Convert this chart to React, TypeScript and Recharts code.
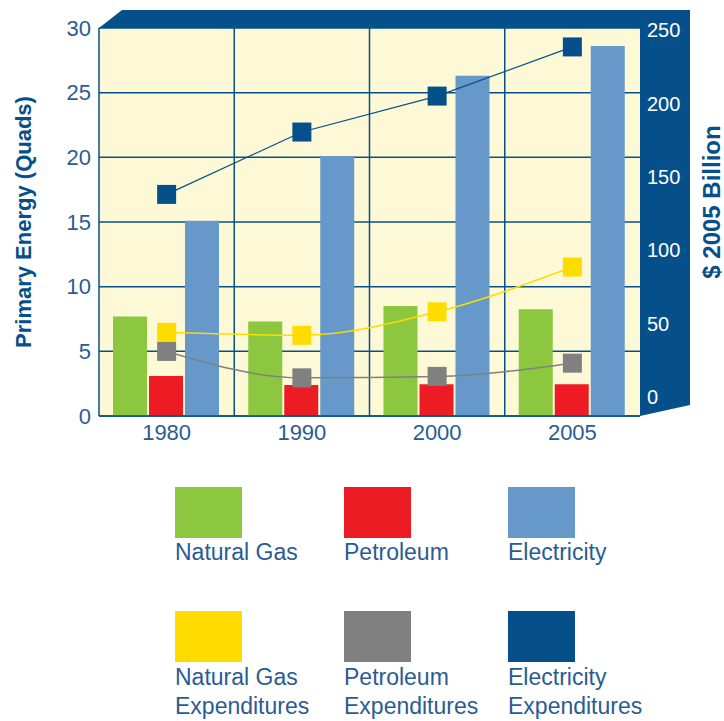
import React from "react"
import {
  Bar,
  CartesianGrid,
  ComposedChart,
  Customized,
  Line,
  XAxis,
  YAxis,
} from "recharts"

// values
const years = ["1980", "1990", "2000", "2005"]
const naturalGas = [7.7, 7.3, 8.5, 8.25]
const petroleum = [3.1, 2.4, 2.45, 2.45]
const electricity = [15.1, 20.1, 26.3, 28.6]
const naturalGasExp = [44, 42, 58, 88.5]
const petroleumExp = [31, 13, 14, 23]
const electricityExp = [138, 180.5, 205, 238.5]

const leftTicks = [0, 5, 10, 15, 20, 25, 30]
const rightTicks = [0, 50, 100, 150, 200, 250]

const data = years.map((year, i) => ({
  year,
  naturalGas: naturalGas[i],
  petroleum: petroleum[i],
  electricity: electricity[i],
  naturalGasExp: naturalGasExp[i],
  petroleumExp: petroleumExp[i],
  electricityExp: electricityExp[i],
}))

const FONT = '"Liberation Sans", Arial, Helvetica, sans-serif'
const NAVY = "#05508a"
const TEXT = "#2a5c92"

const colors = {
  naturalGas: "#8dc63f",
  petroleum: "#ed1c24",
  electricity: "#6699c9",
  naturalGasExp: "#ffdc00",
  petroleumExp: "#808080",
  electricityExp: NAVY,
}

const legendItems = [
  { label: ["Natural Gas"], color: colors.naturalGas },
  { label: ["Petroleum"], color: colors.petroleum },
  { label: ["Electricity"], color: colors.electricity },
  { label: ["Natural Gas", "Expenditures"], color: colors.naturalGasExp },
  { label: ["Petroleum", "Expenditures"], color: colors.petroleumExp },
  { label: ["Electricity", "Expenditures"], color: colors.electricityExp },
]

const W = 724
const H = 460
const margin = { top: 28, right: 34, bottom: 0, left: 39 }
const plotLeft = 99
const plotRight = 640
const plotTop = 28
const plotBottom = 416

const squareDot = (color: string) => (props: any) => {
  const { cx, cy, index } = props
  if (cx == null || cy == null) return <g key={index} />
  return <rect key={index} x={cx - 9.5} y={cy - 9.5} width={19} height={19} fill={color} />
}

function Frame() {
  // the dark "3D" top rim and right side panel of the box
  return (
    <g>
      <polygon
        points={`${plotLeft},${plotTop} ${plotLeft + 23},10 690,10 690,405 ${plotRight},${plotBottom} ${plotRight},${plotTop}`}
        fill={NAVY}
      />
      <text
        x={31}
        y={222}
        transform="rotate(-90, 31, 222)"
        textAnchor="middle"
        fontFamily={FONT}
        fontWeight="bold"
        fontSize={22}
        fill={NAVY}
      >
        Primary Energy (Quads)
      </text>
      <text
        x={720}
        y={202}
        transform="rotate(-90, 720, 202)"
        textAnchor="middle"
        fontFamily={FONT}
        fontWeight="bold"
        fontSize={24}
        fill={NAVY}
      >
        $ 2005 Billion
      </text>
    </g>
  )
}

export default function App() {
  return (
    <div style={{ position: "relative", width: W, height: 721, fontFamily: FONT }}>
      <style>{"body{margin:0;background:#fff}"}</style>
      <ComposedChart
        width={W}
        height={H}
        data={data}
        margin={margin}
        barCategoryGap={14}
        barGap={2}
      >
        <CartesianGrid
          fill="#fdf9d6"
          fillOpacity={1}
          stroke={NAVY}
          strokeWidth={1.5}
          verticalCoordinatesGenerator={({ offset }: any) =>
            [1, 2, 3].map((i) => offset.left + (i * offset.width) / 4)
          }
        />
        <Customized component={Frame} />
        <XAxis
          dataKey="year"
          axisLine={{ stroke: NAVY, strokeWidth: 1.5 }}
          tickLine={false}
          tickSize={0}
          tickMargin={8}
          height={44}
          tick={{ fill: TEXT, fontSize: 22, fontFamily: FONT }}
        />
        <YAxis
          domain={[0, 30]}
          ticks={leftTicks}
          width={60}
          axisLine={{ stroke: NAVY, strokeWidth: 1.5 }}
          tickLine={false}
          tickSize={0}
          tickMargin={8}
          interval={0}
          tick={{ fill: TEXT, fontSize: 22, fontFamily: FONT }}
        />
        <YAxis
          yAxisId="right"
          orientation="right"
          domain={[-13, 251.4]}
          ticks={rightTicks}
          width={50}
          axisLine={false}
          tickLine={false}
          tickSize={0}
          tickMargin={7}
          interval={0}
          allowDataOverflow
          tick={{ fill: "#ffffff", fontSize: 20, fontFamily: FONT, textAnchor: "start" }}
        />
        <Bar dataKey="naturalGas" fill={colors.naturalGas} isAnimationActive={false} />
        <Bar dataKey="petroleum" fill={colors.petroleum} isAnimationActive={false} />
        <Bar dataKey="electricity" fill={colors.electricity} isAnimationActive={false} />
        <Line
          yAxisId="right"
          type="monotone"
          dataKey="naturalGasExp"
          stroke={colors.naturalGasExp}
          strokeWidth={1.5}
          dot={squareDot(colors.naturalGasExp)}
          activeDot={false}
          isAnimationActive={false}
        />
        <Line
          yAxisId="right"
          type="monotone"
          dataKey="petroleumExp"
          stroke={colors.petroleumExp}
          strokeWidth={1.5}
          dot={squareDot(colors.petroleumExp)}
          activeDot={false}
          isAnimationActive={false}
        />
        <Line
          yAxisId="right"
          type="linear"
          dataKey="electricityExp"
          stroke={colors.electricityExp}
          strokeWidth={1.2}
          dot={squareDot(colors.electricityExp)}
          activeDot={false}
          isAnimationActive={false}
        />
      </ComposedChart>

      {legendItems.map((item, i) => {
        const col = i % 3
        const row = Math.floor(i / 3)
        const left = [175, 344, 508][col]
        const top = [487, 611][row]
        return (
          <div key={i} style={{ position: "absolute", left, top }}>
            <div style={{ width: 67, height: 51, background: item.color }} />
            <div
              style={{
                marginTop: row === 0 ? 0 : 1,
                fontSize: 23,
                lineHeight: "29px",
                color: TEXT,
                whiteSpace: "nowrap",
              }}
            >
              {item.label.map((l) => (
                <div key={l}>{l}</div>
              ))}
            </div>
          </div>
        )
      })}
    </div>
  )
}
